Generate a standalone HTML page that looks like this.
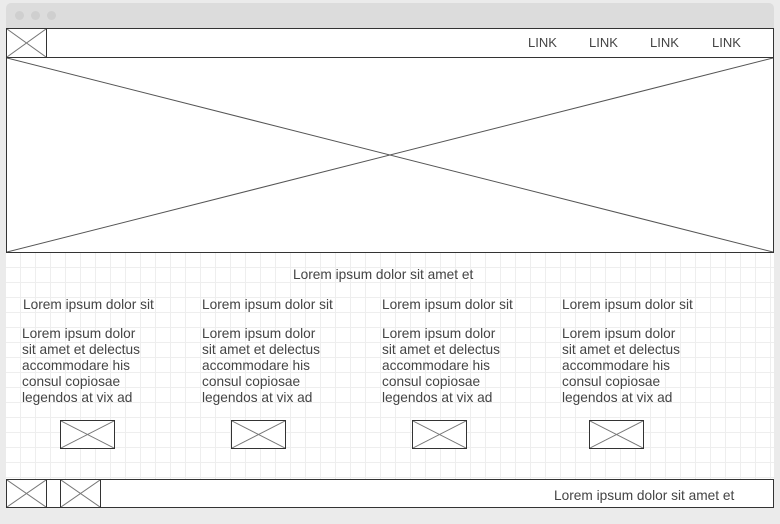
<!DOCTYPE html>
<html><head><meta charset="utf-8"><style>
*{margin:0;padding:0;box-sizing:border-box}
body{width:780px;height:524px;background:#ebebeb;position:relative;overflow:hidden;font-family:"Liberation Sans",sans-serif;color:#444;font-size:13.7px}
.a{position:absolute}
.box{position:absolute;border:1px solid #333;background:#fff}
.t{position:absolute;white-space:nowrap;line-height:16px}
svg.x{position:absolute;left:0;top:0;width:100%;height:100%}
</style></head><body>
<div class="a" style="left:6px;top:3px;width:768px;height:26px;background:#dcdcdc;border-radius:5px 5px 0 0"></div>
<div class="a" style="left:15px;top:11px">
<span style="position:absolute;left:0;width:9px;height:9px;border-radius:50%;background:#cfcfcf"></span>
<span style="position:absolute;left:16px;width:9px;height:9px;border-radius:50%;background:#cfcfcf"></span>
<span style="position:absolute;left:32px;width:9px;height:9px;border-radius:50%;background:#cfcfcf"></span>
</div>
<div class="a" style="left:6px;top:252px;width:768px;height:228px;background-color:#fff;background-image:linear-gradient(#eee 1px,transparent 1px),linear-gradient(90deg,#eee 1px,transparent 1px);background-size:15px 15px;background-position:-1px 0px"></div>
<div class="box" style="left:6px;top:28px;width:768px;height:30px"></div>
<div class="box" style="left:6px;top:28px;width:41px;height:30px"><svg class="x" viewBox="0 0 10 10" preserveAspectRatio="none"><path d="M0 0L10 10M10 0L0 10" stroke="#777" stroke-width="1" vector-effect="non-scaling-stroke"/></svg></div>
<span class="t" style="left:528px;top:35px;font-size:13px">LINK</span>
<span class="t" style="left:589px;top:35px;font-size:13px">LINK</span>
<span class="t" style="left:650px;top:35px;font-size:13px">LINK</span>
<span class="t" style="left:712px;top:35px;font-size:13px">LINK</span>
<div class="box" style="left:6px;top:57px;width:768px;height:196px"><svg class="x" viewBox="0 0 10 10" preserveAspectRatio="none"><path d="M0 0L10 10M10 0L0 10" stroke="#555" stroke-width="1" vector-effect="non-scaling-stroke"/></svg></div>
<span class="t" style="left:293px;top:267px">Lorem ipsum dolor sit amet et</span>
<div>
<span class="t" style="left:23px;top:297px">Lorem ipsum dolor sit</span>
<span class="t" style="left:22px;top:326px">Lorem ipsum dolor<br>sit amet et delectus<br>accommodare his<br>consul copiosae<br>legendos at vix ad</span>
<div class="box" style="left:60px;top:420px;width:55px;height:29px"><svg class="x" viewBox="0 0 10 10" preserveAspectRatio="none"><path d="M0 0L10 10M10 0L0 10" stroke="#777" vector-effect="non-scaling-stroke"/></svg></div>
</div>
<div>
<span class="t" style="left:202px;top:297px">Lorem ipsum dolor sit</span>
<span class="t" style="left:202px;top:326px">Lorem ipsum dolor<br>sit amet et delectus<br>accommodare his<br>consul copiosae<br>legendos at vix ad</span>
<div class="box" style="left:231px;top:420px;width:55px;height:29px"><svg class="x" viewBox="0 0 10 10" preserveAspectRatio="none"><path d="M0 0L10 10M10 0L0 10" stroke="#777" vector-effect="non-scaling-stroke"/></svg></div>
</div>
<div>
<span class="t" style="left:382px;top:297px">Lorem ipsum dolor sit</span>
<span class="t" style="left:382px;top:326px">Lorem ipsum dolor<br>sit amet et delectus<br>accommodare his<br>consul copiosae<br>legendos at vix ad</span>
<div class="box" style="left:412px;top:420px;width:55px;height:29px"><svg class="x" viewBox="0 0 10 10" preserveAspectRatio="none"><path d="M0 0L10 10M10 0L0 10" stroke="#777" vector-effect="non-scaling-stroke"/></svg></div>
</div>
<div>
<span class="t" style="left:562px;top:297px">Lorem ipsum dolor sit</span>
<span class="t" style="left:562px;top:326px">Lorem ipsum dolor<br>sit amet et delectus<br>accommodare his<br>consul copiosae<br>legendos at vix ad</span>
<div class="box" style="left:589px;top:420px;width:55px;height:29px"><svg class="x" viewBox="0 0 10 10" preserveAspectRatio="none"><path d="M0 0L10 10M10 0L0 10" stroke="#777" vector-effect="non-scaling-stroke"/></svg></div>
</div>
<div class="box" style="left:6px;top:479px;width:768px;height:29px"></div>
<div class="box" style="left:6px;top:479px;width:41px;height:29px"><svg class="x" viewBox="0 0 10 10" preserveAspectRatio="none"><path d="M0 0L10 10M10 0L0 10" stroke="#777" vector-effect="non-scaling-stroke"/></svg></div>
<div class="box" style="left:60px;top:479px;width:41px;height:29px"><svg class="x" viewBox="0 0 10 10" preserveAspectRatio="none"><path d="M0 0L10 10M10 0L0 10" stroke="#777" vector-effect="non-scaling-stroke"/></svg></div>
<span class="t" style="left:554px;top:488px">Lorem ipsum dolor sit amet et</span>
</body></html>
